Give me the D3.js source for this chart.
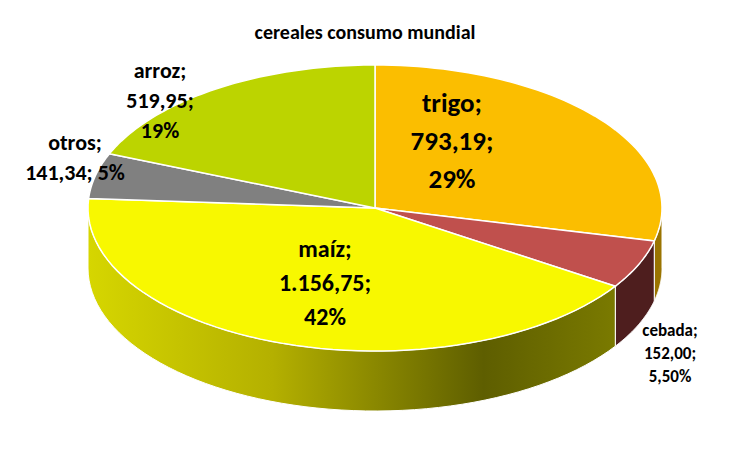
<!DOCTYPE html>
<html><head><meta charset="utf-8">
<script src="https://cdn.jsdelivr.net/npm/d3@7"></script>
<style>body{margin:0;background:#fff}text{font-family:Calibri,Carlito,"Liberation Sans",Arial,sans-serif;font-weight:bold}</style>
</head><body><svg id="c" width="734" height="454"></svg>
<script>
const categories = ["trigo","cebada","maíz","otros","arroz"];
const values = [793.19,152.00,1156.75,141.34,519.95];
const pctLabels = ["29%","5,50%","42%","5%","19%"];
const topColors = ["#FBBE00","#C0504D","#F8F800","#808080","#BCD400"];
const sideColors = ["#9A7400","#4E1E1E","#8A8A00","#505050","#6E7C00"];

const svg = d3.select("#c");
const cx=375, cy=208, rx=287, ry=143, depth=60;
const loc = d3.formatLocale({decimal:",",thousands:".",grouping:[3],currency:["",""]});
const fmt = loc.format(",.2f");
const pie = d3.pie().sort(null).value(d=>d)(values);
const pt=(a,dy=0)=>[cx+rx*Math.sin(a), cy-ry*Math.cos(a)+dy];

svg.append("text").attr("x",365).attr("y",39).attr("text-anchor","middle").attr("font-size",20).text("cereales consumo mundial");

const defs=svg.append("defs");
const g=defs.append("linearGradient").attr("id","maizSide").attr("x1",0).attr("x2",1).attr("y1",0).attr("y2",0);
[[0,"#D6D600"],[0.35,"#B4B000"],[0.75,"#5E5E00"],[1,"#7A7A00"]].forEach(s=>g.append("stop").attr("offset",s[0]).attr("stop-color",s[1]));
const maizIdx = categories.indexOf("maíz");

function arcPts(a0,a1,dy){const n=60,p=[];for(let i=0;i<=n;i++)p.push(pt(a0+(a1-a0)*i/n,dy));return p;}
// sides
pie.forEach((d,i)=>{
  const a0=Math.max(d.startAngle,Math.PI/2), a1=Math.min(d.endAngle,3*Math.PI/2);
  if(a1<=a0) return;
  const top=arcPts(a0,a1,0), bot=arcPts(a0,a1,depth).reverse();
  svg.append("path").attr("d",d3.line()(top.concat(bot))+"Z")
    .attr("fill", i===maizIdx?"url(#maizSide)":sideColors[i]).attr("stroke","#fff").attr("stroke-width",1);
});
// tops
pie.forEach((d,i)=>{
  const p=[[cx,cy]].concat(arcPts(d.startAngle,d.endAngle,0));
  svg.append("path").attr("d",d3.line()(p)+"Z").attr("fill",topColors[i]).attr("stroke","#fff").attr("stroke-width",1.5);
});
// labels
const labelPos=[
 {x:452,y:112,fs:27,lh:38,anchor:"middle"},
 {x:670,y:336,fs:17,lh:23,anchor:"middle"},
 {x:325,y:257,fs:24,lh:34,anchor:"middle"},
 {x:75,y:150,fs:22,lh:30,anchor:"middle"},
 {x:160,y:78,fs:22,lh:30,anchor:"middle"}
];
categories.forEach((c,i)=>{
  const L=labelPos[i];
  const t=svg.append("text").attr("x",L.x).attr("y",L.y).attr("text-anchor",L.anchor).attr("font-size",L.fs).attr("fill","#000");
  const lines = i===3 ? [c+";", fmt(values[i])+"; "+pctLabels[i]] : [c+";", fmt(values[i])+";", pctLabels[i]];
  lines.forEach((s,k)=>t.append("tspan").attr("x",L.x).attr("dy",k?L.lh:0).text(s));
});
</script></body></html>
